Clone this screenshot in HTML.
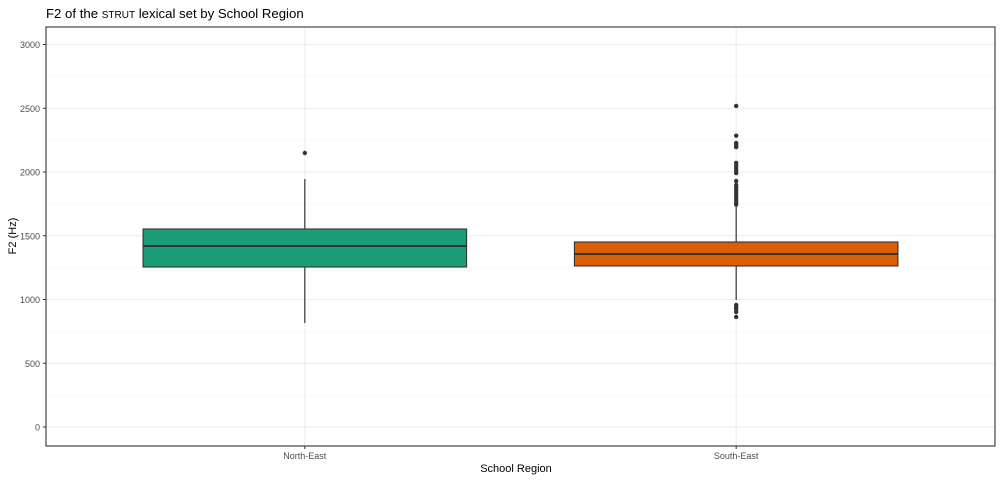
<!DOCTYPE html>
<html><head><meta charset="utf-8"><style>
body{margin:0;background:#fff;font-family:"Liberation Sans",sans-serif}
</style></head><body>
<svg id="chart" width="1000" height="480" xmlns="http://www.w3.org/2000/svg">
<text x="46" y="18" font-size="13.2" fill="#000">F2 of the <tspan font-size="10">STRUT</tspan> lexical set by School Region</text>
<g id="grid"></g>
<g id="marks"></g>
<rect x="46" y="27" width="949" height="419" fill="none" stroke="#333" stroke-width="1.1"/>
<g id="axes"></g>
<text x="516" y="472" font-size="11" text-anchor="middle" fill="#000">School Region</text>
<text transform="translate(16,236) rotate(-90)" font-size="11" text-anchor="middle" fill="#000">F2 (Hz)</text>
</svg>
<script>
const categories=["North-East","South-East"];
const colors=["#1b9e77","#d95f02"];
const q1=[1255,1263];
const medians=[1420,1357];
const q3=[1553,1451];
const whiskLo=[816,996];
const whiskHi=[1945,1741];
const outliersNE=[2149];
const outliersSE=[2518,2285,2227,2210,2196,2071,2050,2031,2010,1992,1929,1898,1880,1859,1840,1820,1800,1780,1760,1745,957,940,925,902,863];
const yTicks=[0,500,1000,1500,2000,2500,3000];
const ns="http://www.w3.org/2000/svg";
const L=46,R=995;
const y=v=>427-v*0.1275;
const x=i=>L+(R-L)*(0.6+i)/2.2;
const bw=(R-L)/2.2*0.75;
function mk(t,a,p){const e=document.createElementNS(ns,t);for(const k in a)e.setAttribute(k,a[k]);p.appendChild(e);return e;}
const grid=document.getElementById('grid'),marks=document.getElementById('marks'),axes=document.getElementById('axes');
for(let i=0;i<yTicks.length;i++){
 const v=yTicks[i];
 const g=mk('line',{x1:L,x2:R,y1:y(v),y2:y(v),stroke:'#ebebeb','stroke-width':1},grid);
 
 
 if(i<yTicks.length-1){const m=mk('line',{x1:L,x2:R,y1:y(v+250),y2:y(v+250),stroke:'#f2f2f2','stroke-width':0.6},grid);
 
 }
 const t=mk('text',{x:L-6,y:y(v)+3.5,'font-size':9,'text-anchor':'end',fill:'#4d4d4d'},axes);t.textContent=v;
 
 
 mk('line',{x1:L-3,x2:L,y1:y(v),y2:y(v),stroke:'#333'},axes);
}
const outs=[outliersNE,outliersSE];
categories.forEach((c,i)=>{
 const cx=x(i);
 const g=mk('line',{x1:cx,x2:cx,y1:27,y2:446,stroke:'#ebebeb'},grid);
 
 
 const w=mk('line',{x1:cx,x2:cx,y1:y(whiskLo[i]),y2:y(whiskHi[i]),stroke:'#333','stroke-width':1.2},marks);
 
 
 const b=mk('rect',{x:cx-bw/2,y:y(q3[i]),width:bw,height:y(q1[i])-y(q3[i]),fill:colors[i],stroke:'#333','stroke-width':1.1},marks);
 
 
 const m=mk('line',{x1:cx-bw/2,x2:cx+bw/2,y1:y(medians[i]),y2:y(medians[i]),stroke:'#333','stroke-width':2},marks);
 
 
 outs[i].forEach(v=>{const o=mk('circle',{cx:cx,cy:y(v),r:2.2,fill:'#333'},marks);
 
 });
 mk('line',{x1:cx,x2:cx,y1:446,y2:449,stroke:'#333'},axes);
 const t=mk('text',{x:cx,y:459,'font-size':9,'text-anchor':'middle',fill:'#4d4d4d'},axes);t.textContent=c;
 
 
});
</script>
</body></html>
